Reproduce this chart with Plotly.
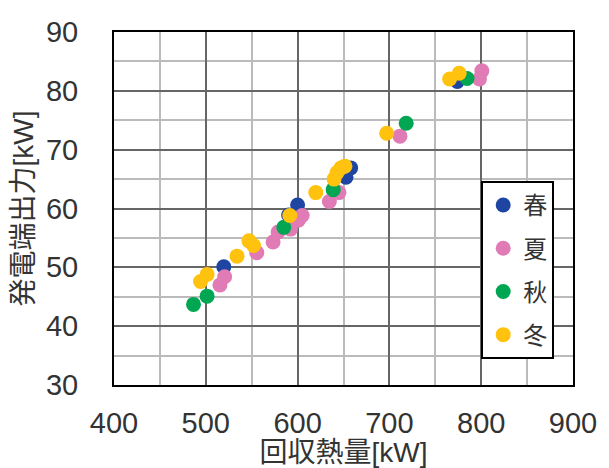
import plotly.graph_objects as go

# Data (x: 回収熱量 kW, y: 発電端出力 kW)
spring_x = [519.6, 590.2, 600.0, 652.7, 657.8, 774.0]
spring_y = [50.1, 58.9, 60.6, 65.3, 66.9, 81.6]

summer_x = [515.4, 520.5, 555.5, 573.3, 578.8, 592.3, 600.8, 605.0, 634.6, 645.0, 711.5, 798.1, 800.7]
summer_y = [47.0, 48.4, 52.5, 54.3, 56.0, 56.5, 58.0, 58.8, 61.2, 62.7, 72.3, 82.0, 83.4]

autumn_x = [486.6, 501.4, 585.0, 638.8, 718.3, 784.6]
autumn_y = [43.7, 45.1, 56.8, 63.2, 74.5, 82.1]

winter_x = [494.3, 501.4, 534.0, 547.0, 552.0, 591.5, 619.8, 639.7, 643.0, 647.3, 651.5, 697.0, 765.6, 776.0]
winter_y = [47.6, 48.8, 51.9, 54.5, 53.7, 58.8, 62.7, 65.0, 66.1, 66.9, 67.2, 72.8, 82.0, 83.0]

series_names = ["春", "夏", "秋", "冬"]
series_colors = ["#1F45A3", "#E07BB6", "#00A651", "#FFC20E"]

x_ticks = [400, 500, 600, 700, 800, 900]
y_ticks = [30, 40, 50, 60, 70, 80, 90]

FONT = "Liberation Sans, Noto Sans CJK JP, sans-serif"

fig = go.Figure()
for name, xs, ys, c in zip(series_names,
                           [spring_x, summer_x, autumn_x, winter_x],
                           [spring_y, summer_y, autumn_y, winter_y],
                           series_colors):
    fig.add_trace(go.Scatter(x=xs, y=ys, mode="markers", name=name, legendgroup=name,
                             marker=dict(color=c, size=15, line=dict(width=0))))

fig.update_layout(
    width=601, height=460,
    margin=dict(l=106, r=36, t=24, b=83),
    paper_bgcolor="white", plot_bgcolor="white",
    font=dict(family=FONT, size=29, color="#333333"),
    showlegend=True,
    legend=dict(x=0.8, y=0.578, xanchor="left", yanchor="top",
                bgcolor="white", bordercolor="black", borderwidth=2,
                font=dict(size=24, color="#333333"),
                tracegroupgap=9, itemwidth=30),
)
fig.update_xaxes(range=[400, 900], tickvals=x_ticks, showline=True, mirror=True,
                 linecolor="black", linewidth=2,
                 showgrid=True, gridcolor="#666666", gridwidth=2,
                 minor=dict(dtick=50, showgrid=True, gridcolor="#BBBBBB", gridwidth=2),
                 ticks="outside", ticklen=11, tickcolor="rgba(0,0,0,0)",
                 zeroline=False, automargin=False,
                 title=dict(text="回収熱量[kW]", standoff=0, font=dict(size=28)))
fig.update_yaxes(range=[30, 90], tickvals=y_ticks, showline=True, mirror=True,
                 linecolor="black", linewidth=2,
                 showgrid=True, gridcolor="#666666", gridwidth=2,
                 minor=dict(dtick=5, showgrid=True, gridcolor="#BBBBBB", gridwidth=2),
                 ticks="outside", ticklen=28, tickcolor="rgba(0,0,0,0)",
                 zeroline=False, automargin=False,
                 title=dict(text="発電端出力[kW]", standoff=10, font=dict(size=28)))

fig.write_html("out.html")
